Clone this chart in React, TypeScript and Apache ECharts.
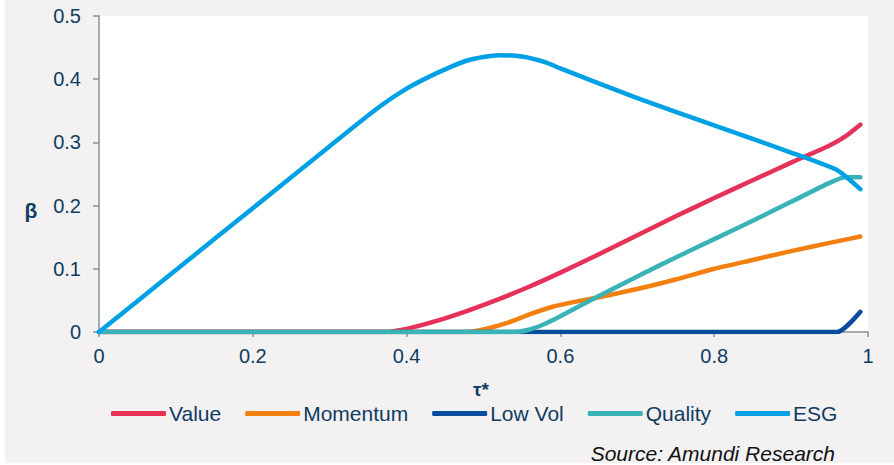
import React, { useEffect, useRef } from "react";
import * as echarts from "echarts";

const seriesNames = ["Value", "Momentum", "Low Vol", "Quality", "ESG"];
const seriesColors = ["#e6325a", "#f28011", "#0a4d9e", "#3ab3b6", "#00a1e4"];

const valueTau = [0, 0.37, 0.4, 0.44, 0.48, 0.52, 0.56, 0.6, 0.65, 0.7, 0.75, 0.8, 0.85, 0.9, 0.95, 0.97, 0.99];
const valueBeta = [0, 0, 0.005, 0.018, 0.034, 0.052, 0.072, 0.094, 0.123, 0.153, 0.183, 0.212, 0.24, 0.268, 0.295, 0.309, 0.328];

const momentumTau = [0, 0.48, 0.5, 0.53, 0.56, 0.59, 0.62, 0.65, 0.7, 0.75, 0.8, 0.85, 0.9, 0.95, 0.99];
const momentumBeta = [0, 0, 0.004, 0.014, 0.028, 0.04, 0.048, 0.055, 0.068, 0.083, 0.1, 0.114, 0.128, 0.141, 0.151];

const lowVolTau = [0, 0.96, 0.99];
const lowVolBeta = [0, 0, 0.032];

const qualityTau = [0, 0.54, 0.56, 0.58, 0.6, 0.65, 0.7, 0.75, 0.8, 0.85, 0.9, 0.95, 0.97, 0.99];
const qualityBeta = [0, 0, 0.004, 0.013, 0.025, 0.057, 0.088, 0.118, 0.147, 0.176, 0.206, 0.236, 0.245, 0.245];

const esgTau = [0, 0.1, 0.2, 0.3, 0.36, 0.4, 0.44, 0.48, 0.52, 0.55, 0.58, 0.6, 0.7, 0.8, 0.9, 0.96, 0.99];
const esgBeta = [0, 0.098, 0.196, 0.294, 0.352, 0.385, 0.41, 0.43, 0.438, 0.436, 0.427, 0.417, 0.37, 0.327, 0.284, 0.256, 0.226];

const xTicks = { min: 0, max: 1, interval: 0.2 };
const yTicks = { min: 0, max: 0.5, interval: 0.1 };

const xName = "τ*";
const yName = "β";
const sourceText = "Source: Amundi Research";

const FONT = "'Liberation Sans', Arial, sans-serif";
const TEXT = "#0f3c61";
const AXIS = "#8a919b";

function pairs(xs: number[], ys: number[]) {
  return xs.map((x, i) => [x, ys[i]]);
}

export default function App() {
  const ref = useRef<HTMLDivElement>(null);
  useEffect(() => {
    if (!ref.current) return;
    const chart = echarts.init(ref.current, undefined, { renderer: "svg" });
    const allData = [
      pairs(valueTau, valueBeta),
      pairs(momentumTau, momentumBeta),
      pairs(lowVolTau, lowVolBeta),
      pairs(qualityTau, qualityBeta),
      pairs(esgTau, esgBeta),
    ];
    chart.setOption({
      animation: false,
      backgroundColor: "#f3f1f2",
      textStyle: { fontFamily: FONT },
      grid: {
        left: 99,
        top: 16,
        right: 26,
        bottom: 133,
        show: true,
        backgroundColor: "#ffffff",
        borderWidth: 0,
      },
      xAxis: {
        type: "value",
        min: xTicks.min,
        max: xTicks.max,
        interval: xTicks.interval,
        axisLine: { show: true, lineStyle: { color: AXIS, width: 1.5 } },
        axisTick: { show: true, length: 5, lineStyle: { color: AXIS, width: 1.5 } },
        splitLine: { show: false },
        axisLabel: { color: TEXT, fontSize: 20, fontFamily: FONT, margin: 14 },
      },
      yAxis: {
        type: "value",
        min: yTicks.min,
        max: yTicks.max,
        interval: yTicks.interval,
        axisLine: { show: true, lineStyle: { color: AXIS, width: 1.5 } },
        axisTick: { show: true, length: 6, lineStyle: { color: AXIS, width: 1.5 } },
        splitLine: { show: false },
        axisLabel: { color: TEXT, fontSize: 20, fontFamily: FONT, margin: 18 },
      },
      legend: {
        data: seriesNames,
        left: 106,
        top: 398,
        icon: "roundRect",
        itemWidth: 55,
        itemHeight: 5,
        itemGap: 24,
        textStyle: { color: TEXT, fontSize: 21, fontFamily: FONT, padding: [0, 0, 0, -2] },
      },
      graphic: [
        { type: "rect", shape: { x: 0, y: 0, width: 5, height: 465 }, style: { fill: "#ffffff" }, silent: true },
        { type: "rect", shape: { x: 0, y: 463, width: 894, height: 2 }, style: { fill: "#ffffff" }, silent: true },
        {
          type: "text",
          x: 31,
          y: 210,
          style: { text: yName, fill: TEXT, font: `bold 21px ${FONT}`, align: "center", verticalAlign: "middle" },
        },
        {
          type: "text",
          x: 481,
          y: 389,
          style: { text: xName, fill: TEXT, font: `bold 19px ${FONT}`, align: "center", verticalAlign: "middle" },
        },
        {
          type: "text",
          x: 835,
          y: 453,
          style: { text: sourceText, fill: "#111111", font: `italic 21px ${FONT}`, align: "right", verticalAlign: "middle" },
        },
      ],
      series: seriesNames.map((name, i) => ({
        name,
        type: "line",
        data: allData[i],
        showSymbol: false,
        symbol: "none",
        smooth: 0.2,
        lineStyle: { color: seriesColors[i], width: 4.5, cap: "round", join: "round" },
        itemStyle: { color: seriesColors[i] },
      })),
    });
    return () => chart.dispose();
  }, []);
  return (
    <div
      ref={ref}
      style={{ position: "absolute", left: 0, top: 0, width: 894, height: 465 }}
    />
  );
}
